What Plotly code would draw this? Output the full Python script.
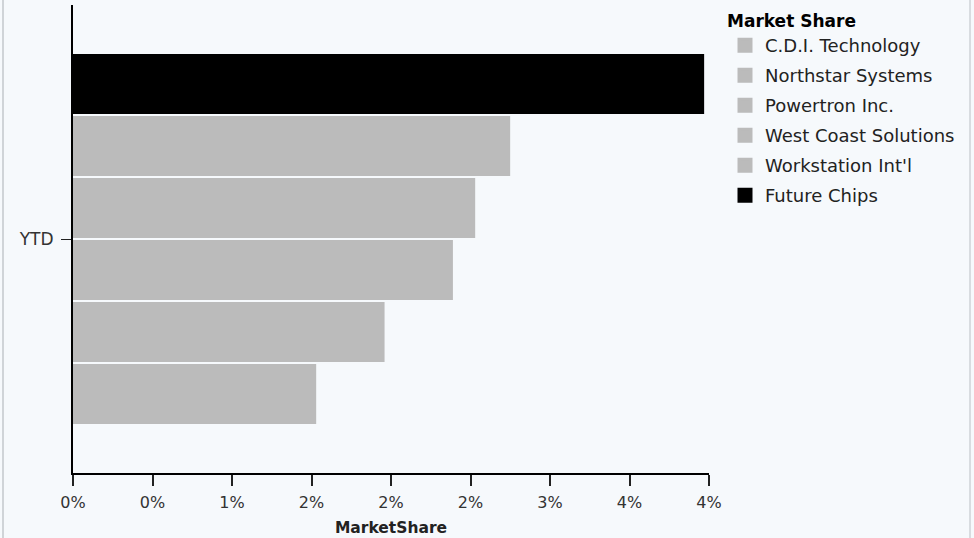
import plotly.graph_objects as go

categories = ["YTD"]
companies = ["C.D.I. Technology", "Northstar Systems", "Powertron Inc.",
             "West Coast Solutions", "Workstation Int'l", "Future Chips"]
market_share = [1.52, 1.95, 2.38, 2.52, 2.74, 3.96]
bar_colors = ["#bbbbbb", "#bbbbbb", "#bbbbbb", "#bbbbbb", "#bbbbbb", "#000000"]
tick_vals = [0, 0.5, 1, 1.5, 2, 2.5, 3, 3.5, 4]
tick_text = ["0%", "0%", "1%", "2%", "2%", "2%", "3%", "4%", "4%"]

fig = go.Figure()
for name, val, col in zip(companies, market_share, bar_colors):
    # outline in the same colour makes the legend swatch bigger
    fig.add_trace(go.Bar(y=categories, x=[val], name=name, orientation="h",
                         marker=dict(color=col, line=dict(width=3, color=col)),
                         legendgroup=name))

W, H = 974, 538
ml, mr, mt, mb = 73, 265, 5, 65
pw, ph = W - ml - mr, H - mt - mb
FONT = "DejaVu Sans, Verdana, sans-serif"

fig.update_layout(
    width=W, height=H,
    margin=dict(l=ml, r=mr, t=mt, b=mb),
    barmode="group", bargap=0.205, bargroupgap=0.08,
    paper_bgcolor="#f6f9fc", plot_bgcolor="#f6f9fc",
    font=dict(family=FONT, size=15, color="#222"),
    showlegend=True,
    legend=dict(x=(725 - ml) / pw, y=(H - mb - 5) / ph, xanchor="left", yanchor="top",
                title=dict(text="<b>Market Share</b>", font=dict(size=17, color="#000")),
                font=dict(size=18, color="#222"), tracegroupgap=3.6,
                bgcolor="rgba(0,0,0,0)"),
    xaxis=dict(range=[0, 4], tickvals=tick_vals, ticktext=tick_text,
               showgrid=False, zeroline=False, showline=True, linecolor="#000", linewidth=2,
               ticks="outside", ticklen=11, tickwidth=2, tickcolor="#222",
               ticklabelstandoff=3, tickfont=dict(size=16, color="#333"),
               title=dict(text="<b>MarketShare</b>", font=dict(size=15.5, color="#222"), standoff=11)),
    yaxis=dict(showgrid=False, zeroline=False, showline=True, linecolor="#000", linewidth=2,
               ticks="outside", ticklen=10, tickwidth=1, tickcolor="#222",
               ticklabelstandoff=4, tickfont=dict(size=17, color="#333")),
    shapes=[dict(type="line", xref="paper", yref="paper",
                 x0=(3 - ml) / pw, x1=(3 - ml) / pw, y0=-mb / ph, y1=(H - mb) / ph + 0.02,
                 line=dict(color="#d0d4d8", width=2)),
            dict(type="line", xref="paper", yref="paper",
                 x0=(970 - ml) / pw, x1=(970 - ml) / pw, y0=-mb / ph, y1=(H - mb) / ph + 0.02,
                 line=dict(color="#d8dce0", width=2))],
)

fig.write_html("out.html", config={"displayModeBar": False},
               post_script="document.body.style.margin='0';")
